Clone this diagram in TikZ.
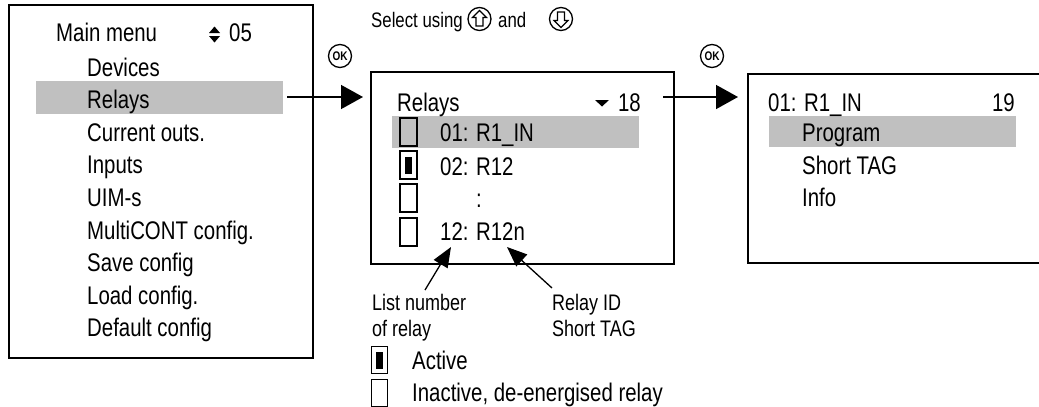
\documentclass[tikz,border=0pt]{standalone}
\usepackage{fontspec}
\setmainfont[FakeStretch=0.8]{Liberation Sans}
\usetikzlibrary{arrows.meta}
\definecolor{hlgray}{RGB}{192,192,192}
\newcommand\szmain{\fontsize{25.5}{30}\selectfont}
\newcommand\szlab{\fontsize{22.5}{26}\selectfont}
\newcommand\szsel{\fontsize{21}{25}\selectfont}
\newcommand\szok{\fontsize{12.5}{13}\selectfont\bfseries}
\begin{document}
\begin{tikzpicture}[x=1pt,y=-1pt,
 panel/.style={draw, line width=2.4, inner sep=0, anchor=north west},
 hl/.style={fill=hlgray, inner sep=0, anchor=north west},
 txt/.style={anchor=base west, inner sep=0, font=\szmain},
 lab/.style={anchor=base west, inner sep=0, font=\szlab},
 chk/.style={draw, line width=1.8, minimum width=17, minimum height=28, inner sep=0},
 okbtn/.style={draw, circle, line width=1.3, minimum size=23, inner sep=0, font=\szok},
 selbtn/.style={draw, circle, line width=1.3, minimum size=23, inner sep=0},
 bigarr/.style={line width=1.5, -{Triangle[length=22,width=24]}},
 smallarr/.style={line width=1.3, -{Triangle[length=20,width=16]}},
]
\useasboundingbox (0,0) rectangle (1039,407);
\clip (0,0) rectangle (1039,407);

% highlights
\node[hl, minimum width=247, minimum height=33] (hl1) at (36,81) {};
\node[hl, minimum width=247, minimum height=32] (hl2) at (392,116) {};
\node[hl, minimum width=247, minimum height=31] (hl3) at (769,116) {};

% panels
\node[panel, minimum width=304, minimum height=353] (box1) at (8,4) {};
\node[panel, minimum width=303, minimum height=192] (box2) at (370,71) {};
\node[panel, minimum width=330, minimum height=189] (box3) at (747,73) {};

% box 1
\node[txt] (mm) at (56,41) {Main menu};
\fill (209,33) -- (220,33) -- (214.5,26.5) -- cycle;
\fill (209,36) -- (220,36) -- (214.5,42.5) -- cycle;
\node[txt] (n05) at (229,41) {05};
\node[txt] (m1) at (87,76) {Devices};
\node[txt] (m2) at (87,108.6) {Relays};
\node[txt] (m3) at (87,141.2) {Current outs.};
\node[txt] (m4) at (87,173.8) {Inputs};
\node[txt] (m5) at (87,206.4) {UIM-s};
\node[txt] (m6) at (87,239) {MultiCONT config.};
\node[txt] (m7) at (87,271.6) {Save config};
\node[txt] (m8) at (87,304.2) {Load config.};
\node[txt] (m9) at (87,336.8) {Default config};

% box 2
\node[txt] (rt) at (397,111) {Relays};
\fill (595,100) -- (609,100) -- (602,106.5) -- cycle;
\node[txt, anchor=base east] (n18) at (641,111) {18};
\node[chk] (c1) at (408.5,132) {};
\node[chk] (c2) at (408.5,165) {};
\node[chk] (c3) at (408.5,198) {};
\node[chk] (c4) at (408.5,232) {};
\fill (c2.center) ++(-3.5,-8.5) rectangle ++(7,17);
\node[txt] (r1) at (440,141.5) {01: R1\_IN};
\node[txt] (r2) at (440,175) {02: R12};
\node[txt] (r3) at (476,207.5) {:};
\node[txt] (r4) at (440,240.5) {12: R12n};

% box 3
\node[txt] (h3) at (768,111) {01: R1\_IN};
\node[txt, anchor=base east] (n19) at (1015,111) {19};
\node[txt] (p1) at (802,141.5) {Program};
\node[txt] (p2) at (802,174) {Short TAG};
\node[txt] (p3) at (802,206.5) {Info};

% top text
\node[anchor=base west, inner sep=0, font=\szsel] (sel) at (371,27) {Select using};
\node[anchor=base west, inner sep=0, font=\szsel] (and) at (498,27) {and};
\node[selbtn] (up) at (479.5,19) {};
\node[selbtn] (dn) at (561,19) {};
\draw[line width=1.1, line join=miter] (up.center) ++(0,-8.5) -- ++(7,7) -- ++(-3.5,0) -- ++(0,8.5) -- ++(-7,0) -- ++(0,-8.5) -- ++(-3.5,0) -- cycle;
\draw[line width=1.1, line join=miter] (dn.center) ++(0,8.5) -- ++(7,-7) -- ++(-3.5,0) -- ++(0,-8.5) -- ++(-7,0) -- ++(0,8.5) -- ++(-3.5,0) -- cycle;

% OK buttons
\node[okbtn] (ok1) at (340,56) {OK};
\node[okbtn] (ok2) at (712,56) {OK};

% main arrows
\coordinate (a1) at (287,97);
\coordinate (a2) at (663,97);
\draw[bigarr, shorten >=7] (a1) -- (box2.west |- a1);
\draw[bigarr, shorten >=9] (a2) -- (box3.west |- a2);

% annotation arrows
\coordinate (s1) at (425,290);
\coordinate (t1) at (451,247);
\coordinate (s2) at (552,288);
\coordinate (t2) at (507,247);
\draw[smallarr] (s1) -- (t1);
\draw[smallarr] (s2) -- (t2);

\node[lab] (l1) at (372,310) {List number};
\node[lab] (l2) at (372,336) {of relay};
\node[lab] (l3) at (552,310) {Relay ID};
\node[lab] (l4) at (552,336) {Short TAG};

% legend
\node[chk, minimum height=27, minimum width=16] (la) at (379.5,360) {};
\fill (la.center) ++(-3.5,-8.5) rectangle ++(7,17);
\node[chk, minimum height=27, minimum width=16] (li) at (379.5,393) {};
\node[txt] (ta) at (412,369) {Active};
\node[txt] (ti) at (412,401) {Inactive, de-energised relay};
\end{tikzpicture}
\end{document}
